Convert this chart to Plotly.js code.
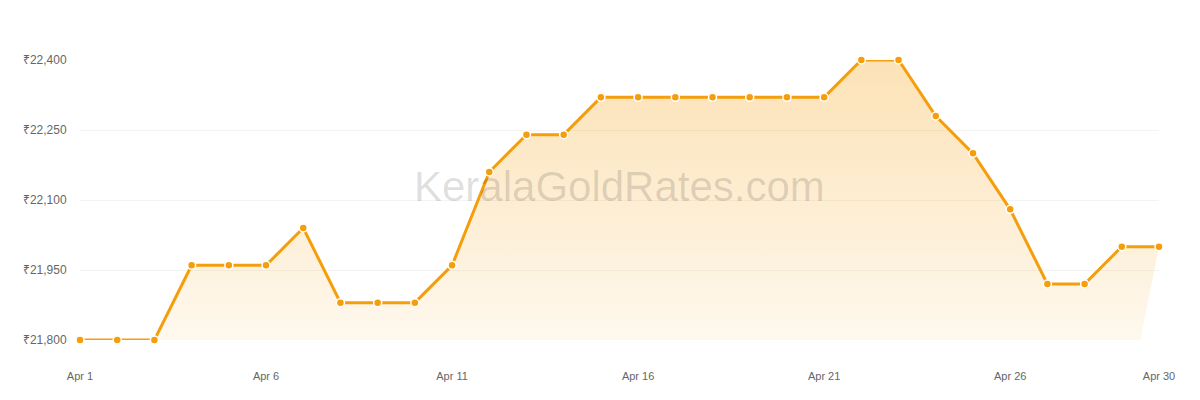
<!DOCTYPE html>
<html>
<head>
<meta charset="utf-8">
<script src="https://cdn.plot.ly/plotly-3.0.1.min.js"></script>
<style>html,body{margin:0;padding:0;background:#fff;}#chart{width:1200px;height:400px;}</style>
</head>
<body>
<div id="chart"></div>
<script>
const days = [1,2,3,4,5,6,7,8,9,10,11,12,13,14,15,16,17,18,19,20,21,22,23,24,25,26,27,28,29,30];
const prices = [21800,21800,21800,21960,21960,21960,22040,21880,21880,21880,21960,22160,22240,22240,22320,22320,22320,22320,22320,22320,22320,22400,22400,22280,22200,22080,21920,21920,22000,22000];
const baseDays = [1, 29.5];
const baseY = [21800, 21800];
const tickDays = [1,6,11,16,21,26,30];
const tickLabels = ['Apr 1','Apr 6','Apr 11','Apr 16','Apr 21','Apr 26','Apr 30'];
const yTicks = [21800,21950,22100,22250,22400];
const yTickLabels = ['₹21,800','₹21,950','₹22,100','₹22,250','₹22,400'];

const base = {
  x: baseDays, y: baseY, mode: 'lines', line: {width: 0, color: 'rgba(0,0,0,0)'},
  hoverinfo: 'skip', showlegend: false
};
const main = {
  x: days, y: prices, mode: 'lines+markers', fill: 'tonexty',
  fillgradient: {type: 'vertical', colorscale: [[0,'rgba(245,158,11,0.07)'],[1,'rgba(245,158,11,0.3)']]},
  line: {color: '#f59e0b', width: 3},
  marker: {color: '#f59e0b', size: 8, line: {color: '#ffffff', width: 1.5}},
  cliponaxis: false, showlegend: false
};

const FONT = '"Liberation Sans", "Noto Sans", "DejaVu Sans", Arial, sans-serif';
const layout = {
  width: 1200, height: 400,
  margin: {l: 80, r: 41, t: 60, b: 60},
  paper_bgcolor: '#ffffff', plot_bgcolor: '#ffffff',
  font: {family: FONT, color: '#666'},
  xaxis: {
    range: [1, 30], tickmode: 'array', tickvals: tickDays, ticktext: tickLabels,
    showgrid: false, zeroline: false, showline: false,
    ticks: 'outside', ticklen: 26, tickcolor: 'rgba(0,0,0,0)',
    tickfont: {size: 11, color: '#666', family: FONT}
  },
  yaxis: {
    range: [21800, 22400], tickmode: 'array', tickvals: yTicks, ticktext: yTickLabels,
    showgrid: true, gridcolor: '#f3f3f3', gridwidth: 1, zeroline: false, showline: false,
    ticks: 'outside', ticklen: 10, tickcolor: 'rgba(0,0,0,0)',
    tickfont: {size: 12, color: '#666', family: FONT}
  },
  annotations: [{
    text: 'KeralaGoldRates.com', xref: 'paper', yref: 'paper', x: 0.5, y: 0.55,
    xanchor: 'center', yanchor: 'middle', showarrow: false,
    font: {size: 42, color: 'rgba(0,0,0,0.13)', family: FONT}
  }]
};

Plotly.newPlot('chart', [base, main], layout, {displayModeBar: false, staticPlot: true});
</script>
</body>
</html>
